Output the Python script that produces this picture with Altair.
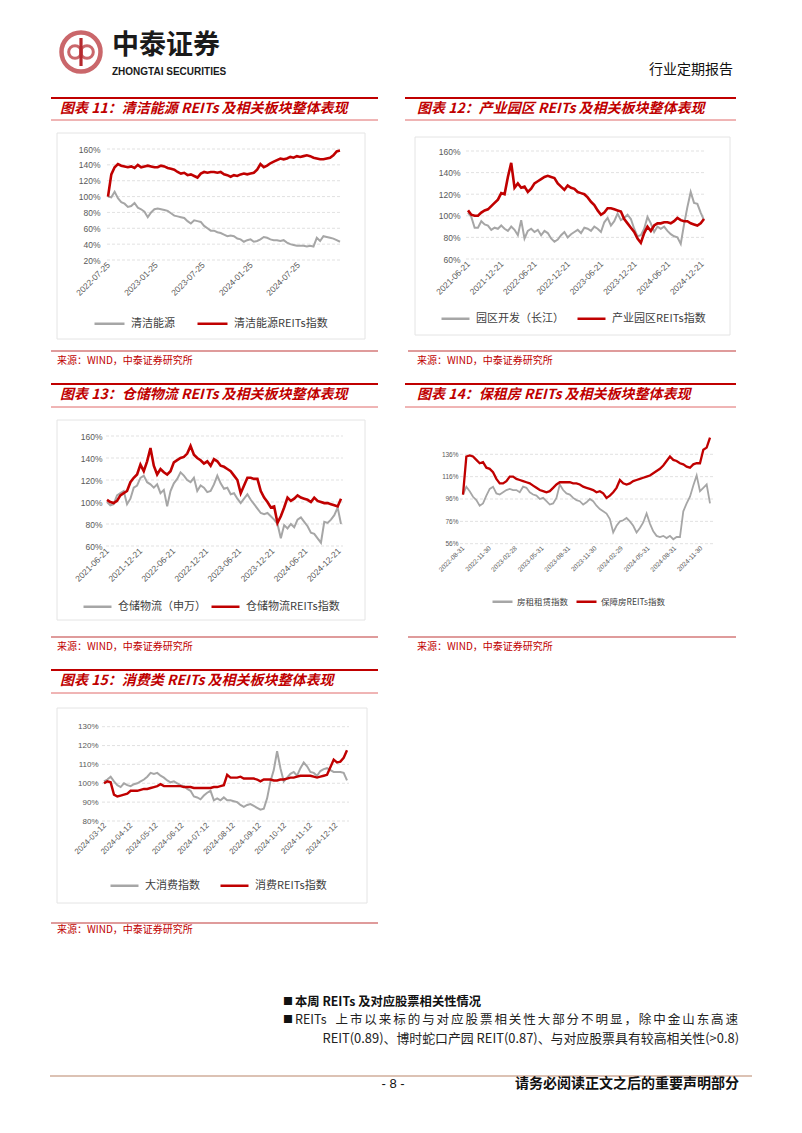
import altair as alt
import pandas as pd

W, H = 770, 1100
CJK = "Noto Sans CJK SC"
LAT = "Liberation Sans"
RED = "#c00000"
GREY = "#a6a6a6"

# ---------------- data ----------------
C11_NAMES = ["清洁能源", "清洁能源REITs指数"]
C11_SPAN = ["2022-07-25", "2025-01-03"]
C11_XTICKS = ["2022-07-25", "2023-01-25", "2023-07-25", "2024-01-25", "2024-07-25"]
C11_YTICKS = [20, 40, 60, 80, 100, 120, 140, 160]
C11_GREY = [100, 99, 106, 98, 93, 91, 87, 88, 92, 86, 84, 81, 74, 80, 84, 85, 84, 83, 82, 79,
            76, 75, 74, 73, 69, 66, 70, 69, 68, 63, 60, 57, 57, 55, 54, 52, 50, 51, 50, 47,
            46, 43, 45, 46, 43, 44, 46, 49, 48, 46, 45, 45, 44, 45, 42, 40, 39, 38, 38, 38,
            37, 38, 37, 48, 44, 50, 49, 48, 47, 45, 43]
C11_RED = [100, 128, 137, 141, 139, 138, 137, 138, 136, 140, 137, 138, 139, 138, 137, 137, 139, 138, 136, 135,
           134, 131, 129, 130, 127, 128, 126, 124, 129, 131, 130, 131, 131, 130, 131, 128, 127, 125, 127, 126,
           128, 129, 128, 129, 130, 134, 141, 137, 139, 142, 144, 146, 148, 147, 148, 150, 149, 151, 150, 151,
           152, 151, 149, 148, 147, 147, 148, 149, 152, 157, 158]

C12_NAMES = ["园区开发（长江）", "产业园区REITs指数"]
C12_SPAN = ["2021-06-21", "2025-01-03"]
C12_XTICKS = ["2021-06-21", "2021-12-21", "2022-06-21", "2022-12-21", "2023-06-21", "2023-12-21",
              "2024-06-21", "2024-12-21"]
C12_YTICKS = [60, 80, 100, 120, 140, 160]
C12_GREY = [103, 99, 89, 89, 95, 92, 91, 87, 89, 88, 91, 88, 86, 90, 87, 82, 96, 79, 86, 88,
            85, 87, 82, 86, 84, 79, 76, 78, 82, 85, 80, 83, 85, 87, 84, 89, 88, 86, 90, 88,
            85, 94, 98, 91, 95, 102, 96, 98, 101, 97, 88, 81, 82, 88, 99, 93, 85, 90, 88, 90,
            86, 83, 81, 80, 74, 92, 108, 122, 112, 111, 103, 96]
C12_RED = [105, 101, 100, 100, 103, 105, 106, 109, 112, 115, 121, 120, 136, 149, 126, 130, 126, 127, 122, 125,
           130, 132, 134, 136, 137, 136, 135, 130, 127, 124, 128, 126, 125, 122, 121, 120, 117, 113, 110, 105,
           101, 103, 107, 107, 106, 105, 104, 97, 93, 89, 85, 79, 75, 84, 90, 86, 91, 93, 93, 94,
           94, 93, 95, 98, 96, 95, 95, 93, 92, 91, 93, 97]

C13_NAMES = ["仓储物流（申万）", "仓储物流REITs指数"]
C13_SPAN = ["2021-06-21", "2025-01-03"]
C13_XTICKS = C12_XTICKS
C13_YTICKS = [60, 80, 100, 120, 140, 160]
C13_GREY = [100, 97, 98, 106, 108, 110, 98, 103, 113, 115, 122, 124, 118, 116, 113, 116, 108, 111, 96, 110,
            117, 121, 127, 124, 120, 118, 122, 110, 115, 113, 109, 110, 116, 124, 117, 112, 113, 107, 108, 103,
            99, 103, 107, 102, 98, 94, 90, 89, 90, 87, 84, 80, 67, 79, 76, 80, 77, 84, 86, 82,
            78, 72, 71, 67, 63, 82, 81, 84, 88, 95, 80]
C13_RED = [102, 100, 99, 101, 106, 108, 110, 118, 122, 125, 134, 128, 137, 149, 133, 125, 130, 127, 125, 128,
           136, 138, 140, 141, 144, 151, 143, 140, 138, 135, 137, 133, 139, 137, 133, 132, 130, 128, 124, 120,
           108, 115, 122, 122, 121, 121, 110, 104, 100, 95, 96, 81, 87, 95, 104, 101, 103, 106, 104, 103,
           102, 100, 104, 101, 100, 99, 99, 98, 97, 96, 103]

C14_NAMES = ["房租租赁指数", "保障房REITs指数"]
C14_SPAN = ["2022-08-31", "2024-12-31"]
C14_XTICKS = ["2022-08-31", "2022-11-30", "2023-02-28", "2023-05-31", "2023-08-31", "2023-11-30",
              "2024-02-29", "2024-05-31", "2024-08-31", "2024-11-30"]
C14_YTICKS = [56, 76, 96, 116, 136]
C14_GREY = [100, 107, 103, 98, 95, 90, 92, 99, 105, 107, 101, 100, 102, 104, 105, 104, 104, 102, 107, 106,
            102, 100, 99, 96, 97, 94, 91, 92, 97, 109, 104, 101, 100, 97, 95, 94, 91, 93, 96, 94,
            90, 87, 85, 83, 78, 66, 72, 76, 77, 79, 76, 72, 66, 70, 75, 83, 74, 67, 63, 62,
            63, 61, 63, 60, 62, 62, 85, 92, 98, 108, 117, 103, 106, 109, 92]
C14_RED = [100, 134, 135, 134, 131, 128, 129, 124, 123, 120, 114, 110, 110, 112, 116, 116, 114, 113, 112, 111,
           110, 108, 106, 104, 103, 102, 103, 106, 109, 111, 111, 111, 111, 110, 110, 109, 107, 106, 105, 104,
           102, 103, 101, 97, 99, 102, 106, 113, 110, 109, 110, 112, 113, 114, 115, 116, 117, 119, 121, 123,
           126, 130, 134, 131, 130, 128, 127, 125, 124, 127, 128, 128, 140, 142, 151]

C15_NAMES = ["大消费指数", "消费REITs指数"]
C15_SPAN = ["2024-03-11", "2024-12-25"]
C15_XTICKS = ["2024-03-12", "2024-04-12", "2024-05-12", "2024-06-12", "2024-07-12", "2024-08-12",
              "2024-09-12", "2024-10-12", "2024-11-12", "2024-12-12"]
C15_YTICKS = [80, 90, 100, 110, 120, 130]
C15_GREY = [101, 102, 103.5, 101, 99, 98, 100, 99, 98.5, 99.5, 100, 101, 102, 103.5, 105.5, 105, 105.5, 104, 103, 101.5,
            100.5, 101, 100, 99, 98.5, 97, 96, 93, 92.5, 91.5, 93.5, 95, 96, 91, 92, 91, 92.5, 91, 91, 90.5,
            90, 88.5, 87.5, 88.5, 89, 88, 87, 86, 86.5, 92, 101, 107, 117, 108, 101, 103, 105, 106, 104, 108,
            111, 109, 106, 105.5, 104, 106.5, 107.5, 108, 107, 106, 106, 106, 105.5, 101.5]
C15_RED = [100, 101, 100.5, 94, 93, 93.5, 94, 94.5, 96, 96, 96, 96.5, 97, 97, 97.5, 98, 98.5, 99.5, 98.5, 98.5,
           98.5, 98.5, 98.5, 98.5, 98, 98, 98, 97.5, 97.5, 97.5, 97.5, 97.5, 97.5, 98, 98, 98.5, 99, 104.5, 103, 103,
           103, 103.5, 102.5, 102.5, 102.5, 102.5, 102, 101, 102, 102, 102, 101.5, 101.5, 102, 102, 102.5, 103, 103, 103.5, 104,
           104, 104, 104, 103.5, 103, 103.5, 104, 104.5, 108.5, 112.5, 111, 111.5, 113.5, 117.5]

TITLES = ["图表 11：清洁能源 REITs 及相关板块整体表现", "图表 12：产业园区 REITs 及相关板块整体表现",
          "图表 13：仓储物流 REITs 及相关板块整体表现", "图表 14：保租房 REITs 及相关板块整体表现",
          "图表 15：消费类 REITs 及相关板块整体表现"]
SOURCE = "来源：WIND，中泰证券研究所"
BULLET_1 = "本周 REITs 及对应股票相关性情况"
BULLET_2_HEAD = "REITs"
BULLET_2_BODY = "上市以来标的与对应股票相关性大部分不明显，除中金山东高速"
BULLET_2_TAIL = "REIT(0.89)、博时蛇口产园 REIT(0.87)、与对应股票具有较高相关性(>0.8)"


# ---------------- helpers ----------------
def dt(s):
    y, m, d = (int(p) for p in s.split("-"))
    return alt.DateTime(year=y, month=m, date=d)


def sdf(span, vals, name):
    dates = pd.date_range(span[0], span[1], periods=len(vals))
    return pd.DataFrame({"date": dates.strftime("%Y-%m-%dT%H:%M:%S"), "value": vals, "series": name})


def panel(names, span, xticks, yticks, grey, red, L):
    def xs():
        return alt.Scale(domain=[dt(span[0]), dt(span[1])], range=[L["x0"], L["x1"]], nice=False)

    def ys():
        return alt.Scale(domain=L["ydom"], range=[L["yb"], L["yt"]], nice=False, zero=False)

    grid = alt.Chart(pd.DataFrame({"v": yticks})).mark_rule(
        color="#d9d9d9", strokeDash=[3, 2], strokeWidth=0.8).encode(
        y=alt.Y("v:Q", scale=ys(), axis=None),
        x=alt.value(L["gx"][0]), x2=alt.value(L["gx"][1]))

    xaxis = alt.Axis(orient="bottom", offset=L["yb"] - H, values=[dt(t) for t in xticks],
                     format="%Y-%m-%d", labelAngle=-45, labelAlign="right", labelBaseline="middle",
                     labelPadding=3, labelFont=LAT, labelFontSize=L["fs"], labelColor="#595959",
                     ticks=False, tickSize=0, domain=False, grid=False, title=None,
                     labelOverlap=False, labelFlush=False)
    yaxis = alt.Axis(orient="left", offset=-L["x0"], values=yticks, labelExpr="datum.value + '%'",
                     labelFont=LAT, labelFontSize=L["fs"], labelColor="#595959", labelPadding=L["lp"],
                     ticks=False, tickSize=0, domain=False, grid=False, title=None, labelOverlap=False)
    half = L["ss"] ** 0.5 / 2
    legend = alt.Legend(orient="none", legendX=L["lx"], legendY=L["lc"] - half, direction="horizontal",
                        title=None, symbolType="stroke", symbolSize=L["ss"], symbolStrokeWidth=2.5,
                        labelFont=CJK, labelFontSize=L["lfs"], labelColor="#404040",
                        columnPadding=L["cp"], labelOffset=L["lo"], padding=0)

    g = alt.Chart(sdf(span, grey, names[0])).mark_line(strokeWidth=L["gw"]).encode(
        x=alt.X("date:T", scale=xs(), axis=xaxis),
        y=alt.Y("value:Q", scale=ys(), axis=yaxis),
        color=alt.Color("series:N", scale=alt.Scale(domain=names, range=[GREY, RED]), legend=legend))
    r = alt.Chart(sdf(span, red, names[1])).mark_line(strokeWidth=L["rw"], color=RED).encode(
        x=alt.X("date:T", scale=xs(), axis=None),
        y=alt.Y("value:Q", scale=ys(), axis=None))
    return [grid, g, r]


def text_layer(rows, **props):
    df = pd.DataFrame(rows, columns=["x", "y", "t"])
    return alt.Chart(df).mark_text(**props).encode(
        x=alt.X("x:Q", scale=None, axis=None),
        y=alt.Y("y:Q", scale=None, axis=None),
        text="t:N")


def hrule_layer(rows, **props):
    df = pd.DataFrame(rows, columns=["x", "x2", "y"])
    return alt.Chart(df).mark_rule(**props).encode(
        x=alt.X("x:Q", scale=None, axis=None), x2="x2:Q",
        y=alt.Y("y:Q", scale=None, axis=None))


# ---------------- layout (pixel geometry of the page) ----------------
L11 = dict(x0=100, x1=332, yb=252, yt=141, ydom=[20, 160], gx=(99, 334), lp=8, fs=8.5,
           lx=85, lc=314, ss=900, lfs=11, cp=17, lo=5, gw=2.0, rw=2.6)
L12 = dict(x0=460, x1=696, yb=251, yt=143, ydom=[60, 160], gx=(458, 698), lp=8, fs=8.5,
           lx=432, lc=309, ss=784, lfs=11, cp=8, lo=5, gw=2.0, rw=2.6)
L13 = dict(x0=99, x1=333, yb=538, yt=428, ydom=[60, 160], gx=(98, 335), lp=5, fs=8.5,
           lx=74, lc=597, ss=784, lfs=11, cp=0, lo=5, gw=2.0, rw=2.6)
L14 = dict(x0=455, x1=702, yb=535.7, yt=427.3, ydom=[56, 153], gx=(452, 706), lp=5, fs=6.5,
           lx=483, lc=592, ss=400, lfs=8.5, cp=2, lo=3, gw=1.8, rw=2.3)
L15 = dict(x0=96, x1=339, yb=813, yt=718.7, ydom=[80, 130], gx=(94, 341), lp=6, fs=8,
           lx=101, lc=876, ss=784, lfs=11, cp=15, lo=5, gw=2.0, rw=2.4)

layers = []

# chart frames
frames = pd.DataFrame({"x": [49, 407, 49, 49], "x2": [357, 722, 357, 359],
                       "y": [125, 129, 412, 700], "y2": [331, 327, 612, 895]})
layers.append(alt.Chart(frames).mark_rect(fillOpacity=0, stroke="#e4e4e4", strokeWidth=1).encode(
    x=alt.X("x:Q", scale=None, axis=None), x2="x2:Q",
    y=alt.Y("y:Q", scale=None, axis=None), y2="y2:Q"))

# title bars
layers.append(hrule_layer([(43, 370, 90), (397, 728, 90), (43, 370, 376), (397, 728, 376), (43, 370, 662)],
                          color=RED, strokeWidth=2.2))
layers.append(hrule_layer([(43, 370, 112), (397, 728, 112), (43, 370, 399), (397, 728, 399), (43, 370, 685)],
                          color="#e06a6a", strokeWidth=1))
layers.append(hrule_layer([(43, 370, 343), (400, 728, 343), (43, 370, 629), (400, 728, 629), (43, 370, 915)],
                          color="#d47a7a", strokeWidth=1.3))
layers.append(hrule_layer([(42, 744, 1068)], color="#dcc2b4", strokeWidth=2.2))

layers.append(text_layer([(52, 101, TITLES[0]), (409, 101, TITLES[1]), (52, 387, TITLES[2]),
                          (409, 387, TITLES[3]), (52, 673, TITLES[4])],
                         align="left", baseline="middle", font=CJK, fontSize=14, fontWeight="bold",
                         fontStyle="italic", color=RED))
layers.append(text_layer([(49, 353, SOURCE), (409, 353, SOURCE), (49, 639, SOURCE), (409, 639, SOURCE),
                          (49, 922, SOURCE)],
                         align="left", baseline="middle", font=CJK, fontSize=10, color="#c00000"))

# header
logo_pts = pd.DataFrame({"x": [73, 67, 79], "y": [44, 44, 44], "s": [1521, 160, 160], "w": [4.5, 3, 3]})
layers.append(alt.Chart(logo_pts).mark_point(shape="circle", filled=False, color="#b5282d").encode(
    x=alt.X("x:Q", scale=None, axis=None), y=alt.Y("y:Q", scale=None, axis=None),
    size=alt.Size("s:Q", scale=None, legend=None),
    strokeWidth=alt.StrokeWidth("w:Q", scale=None, legend=None)))
layers.append(alt.Chart(pd.DataFrame({"x": [73], "y": [30], "y2": [58]})).mark_rule(
    color="#b5282d", strokeWidth=3.2).encode(
    x=alt.X("x:Q", scale=None, axis=None), y=alt.Y("y:Q", scale=None, axis=None), y2="y2:Q"))
layers.append(text_layer([(104, 37.5, "中泰证券")], align="left", baseline="middle", font=CJK,
                         fontSize=27, fontWeight="bold", color="#1a1a1a"))
layers.append(text_layer([(104, 64, "ZHONGTAI SECURITIES")], align="left", baseline="middle", font=LAT,
                         fontSize=10, fontWeight="bold", color="#1a1a1a"))
layers.append(text_layer([(725, 62, "行业定期报告")], align="right", baseline="middle", font=CJK,
                         fontSize=14, color="#111111"))

# bullets (second line spread across the column like justified text)
layers.append(text_layer([(275, 993.5, "■"), (275, 1012, "■")], align="left", baseline="middle",
                         font=CJK, fontSize=10, color="#111111"))
layers.append(text_layer([(287, 993.5, BULLET_1)], align="left", baseline="middle",
                         font=CJK, fontSize=12.3, fontWeight="bold", color="#111111"))
pitch = (731 - 326.5) / len(BULLET_2_BODY)
body_rows = [(287, 1012, BULLET_2_HEAD)] + [
    (326.5 + pitch * (i + 0.5), 1012, ch) for i, ch in enumerate(BULLET_2_BODY)]
layers.append(text_layer(body_rows[:1], align="left", baseline="middle", font=CJK, fontSize=12.5,
                         color="#222222"))
layers.append(text_layer(body_rows[1:], align="center", baseline="middle", font=CJK, fontSize=12.5,
                         color="#222222"))
layers.append(text_layer([(731, 1030.5, BULLET_2_TAIL)],
                         align="right", baseline="middle", font=CJK, fontSize=12.9, color="#222222"))

# footer
layers.append(text_layer([(385, 1076, "- 8 -")], align="center", baseline="middle", font=LAT,
                         fontSize=13, color="#111111"))
layers.append(text_layer([(731, 1076, "请务必阅读正文之后的重要声明部分")], align="right", baseline="middle",
                         font=CJK, fontSize=14, fontWeight="bold", color="#111111"))

# the five line charts
layers += panel(C11_NAMES, C11_SPAN, C11_XTICKS, C11_YTICKS, C11_GREY, C11_RED, L11)
layers += panel(C12_NAMES, C12_SPAN, C12_XTICKS, C12_YTICKS, C12_GREY, C12_RED, L12)
layers += panel(C13_NAMES, C13_SPAN, C13_XTICKS, C13_YTICKS, C13_GREY, C13_RED, L13)
layers += panel(C14_NAMES, C14_SPAN, C14_XTICKS, C14_YTICKS, C14_GREY, C14_RED, L14)
layers += panel(C15_NAMES, C15_SPAN, C15_XTICKS, C15_YTICKS, C15_GREY, C15_RED, L15)

chart = alt.layer(*layers).resolve_scale(
    x="independent", y="independent", color="independent", size="independent", strokeWidth="independent"
).properties(width=W, height=H, padding=0, background="white").configure_view(stroke=None)

chart.save("out.html", embed_options={"renderer": "svg", "actions": False})
